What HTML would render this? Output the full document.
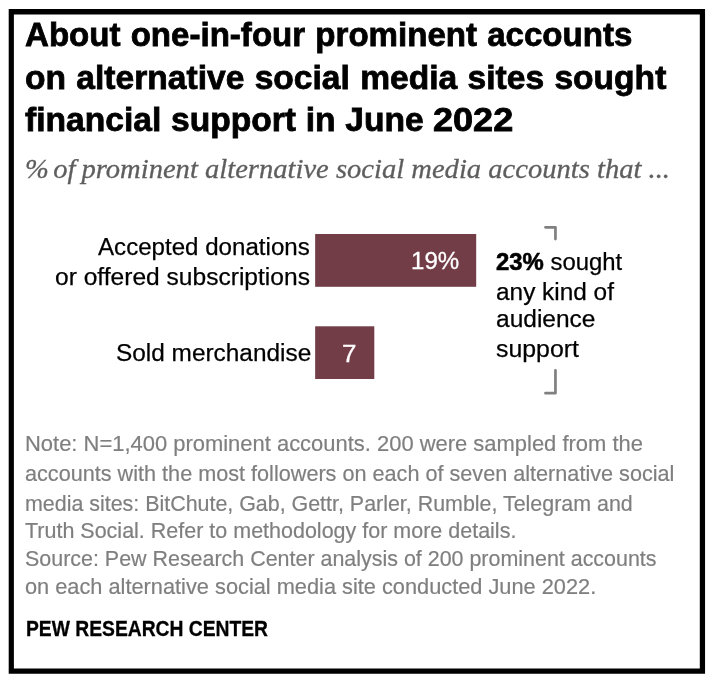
<!DOCTYPE html>
<html lang="en">
<head>
<meta charset="utf-8">
<title>Pew Research Center chart</title>
<style>
html,body{margin:0;padding:0;background:#fff;}
body{width:720px;height:693px;position:relative;overflow:hidden;}
.shapes{position:absolute;left:0;top:0;}
.t{position:absolute;white-space:nowrap;transform-origin:0 0;margin:0;}
.sans{font-family:"Liberation Sans",sans-serif;}
.serif{font-family:"Liberation Serif",serif;}
</style>
</head>
<body>
<svg class="shapes" width="720" height="693" viewBox="0 0 720 693" aria-hidden="true"><path fill="#000" fill-rule="evenodd" d="M8.7 9.1H705.05V673.75H8.7Z M13.9 14.5V668.5H699.8V14.5Z"/><rect fill="#733d47" x="315.15" y="234" width="161.05" height="52.8"/><rect fill="#733d47" x="315.15" y="326.3" width="59.15" height="52.7"/><path d="M545.45 227.3 H555.45 V239.05" fill="none" stroke="#808080" stroke-width="2.7" stroke-linecap="round" stroke-linejoin="round"/><path d="M555.45 370.35 V393.2 H545.45" fill="none" stroke="#808080" stroke-width="2.7" stroke-linecap="round" stroke-linejoin="round"/></svg>
<div class="t sans" id="t0" style="left:24.80px;top:14.98px;font-size:34px;line-height:37.98px;font-weight:700;color:#000;transform:scaleX(0.9727);-webkit-text-stroke:0.8px #000;word-spacing:1px;">About one-in-four prominent accounts</div>
<div class="t sans" id="t1" style="left:25.29px;top:57.53px;font-size:34px;line-height:37.98px;font-weight:700;color:#000;transform:scaleX(0.9877);-webkit-text-stroke:0.8px #000;word-spacing:1px;">on alternative social media sites sought</div>
<div class="t sans" id="t2" style="left:25.23px;top:100.33px;font-size:34px;line-height:37.98px;font-weight:700;color:#000;transform:scaleX(0.9878);-webkit-text-stroke:0.8px #000;word-spacing:0.4px;">financial support in June <span style="display:inline-block;transform:scaleX(1.075);transform-origin:0 50%">2022</span></div>
<div class="t serif" id="t3" style="left:24.98px;top:155.24px;font-size:27px;line-height:29.89px;font-style:italic;color:#5e5e5e;transform:scaleX(1.0583);-webkit-text-stroke:0.3px #5e5e5e;"><span style="word-spacing:-2.5px">% of</span><span style="word-spacing:-1.2px"> </span>prominent alternative social media accounts that ...</div>
<div class="t sans" id="t4" style="left:98.21px;top:232.75px;font-size:24.7px;line-height:27.59px;color:#000;transform:scaleX(0.9765);-webkit-text-stroke:0.25px #000;">Accepted donations</div>
<div class="t sans" id="t5" style="left:55.37px;top:263.35px;font-size:24.7px;line-height:27.59px;color:#000;transform:scaleX(0.9952);-webkit-text-stroke:0.25px #000;">or offered subscriptions</div>
<div class="t sans" id="t6" style="left:116.01px;top:338.95px;font-size:24.7px;line-height:27.59px;color:#000;transform:scaleX(0.9880);-webkit-text-stroke:0.25px #000;">Sold merchandise</div>
<div class="t sans" id="t7" style="left:411.10px;top:246.63px;font-size:24.5px;line-height:27.37px;color:#fff;transform:scaleX(0.9829);-webkit-text-stroke:0.3px #fff;">19%</div>
<div class="t sans" id="t8" style="left:342.37px;top:339.94px;font-size:24.6px;line-height:27.48px;color:#fff;transform:scaleX(1.0563);-webkit-text-stroke:0.3px #fff;">7</div>
<div class="t sans" id="t9" style="left:496.32px;top:248.35px;font-size:24.7px;line-height:27.59px;color:#000;transform:scaleX(0.9673);-webkit-text-stroke:0.25px #000;"><b style="-webkit-text-stroke:0.6px #000">23%</b> sought</div>
<div class="t sans" id="t10" style="left:496.09px;top:278.15px;font-size:24.7px;line-height:27.59px;color:#000;transform:scaleX(0.9879);-webkit-text-stroke:0.25px #000;">any kind of</div>
<div class="t sans" id="t11" style="left:496.08px;top:304.95px;font-size:24.7px;line-height:27.59px;color:#000;transform:scaleX(0.9928);-webkit-text-stroke:0.25px #000;">audience</div>
<div class="t sans" id="t12" style="left:496.14px;top:335.15px;font-size:24.7px;line-height:27.59px;color:#000;transform:scaleX(1.0070);-webkit-text-stroke:0.25px #000;">support</div>
<div class="t sans" id="t13" style="left:25.17px;top:432.09px;font-size:22px;line-height:24.57px;color:#7f7f7f;transform:scaleX(0.9976);-webkit-text-stroke:0.2px #7f7f7f;">Note: N=1,400 prominent accounts. 200 were sampled from the</div>
<div class="t sans" id="t14" style="left:24.61px;top:461.59px;font-size:22px;line-height:24.57px;color:#7f7f7f;transform:scaleX(0.9834);-webkit-text-stroke:0.2px #7f7f7f;">accounts with the most followers on each of seven alternative social</div>
<div class="t sans" id="t15" style="left:24.73px;top:492.39px;font-size:22px;line-height:24.57px;color:#7f7f7f;transform:scaleX(0.9732);-webkit-text-stroke:0.2px #7f7f7f;">media sites: BitChute, Gab, Gettr, Parler, Rumble, Telegram and</div>
<div class="t sans" id="t16" style="left:25.01px;top:518.99px;font-size:22px;line-height:24.57px;color:#7f7f7f;transform:scaleX(0.9769);-webkit-text-stroke:0.2px #7f7f7f;">Truth Social. Refer to methodology for more details.</div>
<div class="t sans" id="t17" style="left:25.25px;top:546.79px;font-size:22px;line-height:24.57px;color:#7f7f7f;transform:scaleX(0.9744);-webkit-text-stroke:0.2px #7f7f7f;">Source: Pew Research Center analysis of 200 prominent accounts</div>
<div class="t sans" id="t18" style="left:25.01px;top:575.29px;font-size:22px;line-height:24.57px;color:#7f7f7f;transform:scaleX(0.9895);-webkit-text-stroke:0.2px #7f7f7f;">on each alternative social media site conducted June 2022.</div>
<div class="t sans" id="t19" style="left:25.80px;top:616.25px;font-size:22.6px;line-height:25.24px;font-weight:700;color:#000;transform:scaleX(0.8531);-webkit-text-stroke:0.3px #000;">PEW RESEARCH CENTER</div>
</body>
</html>
